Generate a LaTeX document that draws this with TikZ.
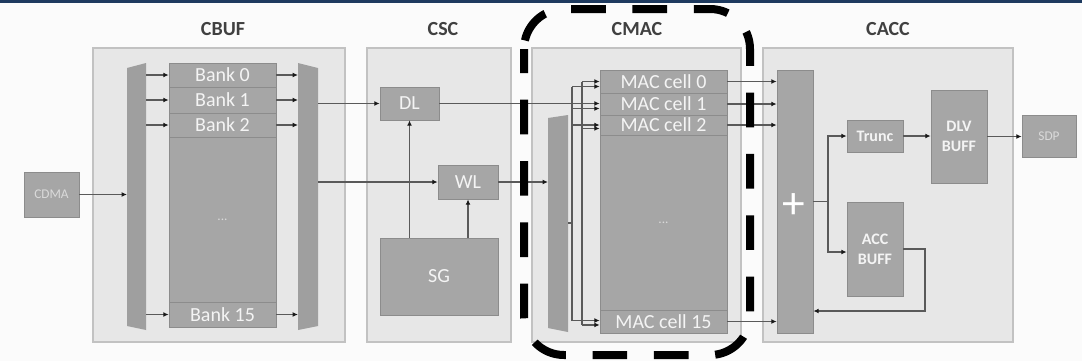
\documentclass[tikz,border=0pt]{standalone}
\usepackage{fontspec}
\setmainfont{Carlito}
\usetikzlibrary{arrows.meta,fit,calc}

\definecolor{pagebg}{HTML}{FBFBFB}
\definecolor{topbar}{HTML}{1E3A5F}
\definecolor{modfill}{HTML}{E7E7E7}
\definecolor{modline}{HTML}{C2C2C2}
\definecolor{blkfill}{HTML}{A6A6A6}
\definecolor{muxfill}{HTML}{9F9F9F}
\definecolor{sepline}{HTML}{8C8C8C}
\definecolor{wirecol}{HTML}{5A5A5A}
\definecolor{titlecol}{HTML}{404040}
\definecolor{blktext}{HTML}{F4F4F4}
\definecolor{dimtext}{HTML}{DADADA}

\tikzset{
  module/.style={fill=modfill, draw=modline, line width=0.8pt, inner sep=0pt},
  modtitle/.style={text=titlecol, font=\bfseries\fontsize{15}{18}\selectfont},
  blk/.style={fill=blkfill, draw=sepline, line width=0.5pt, inner sep=0pt},
  bigtxt/.style={text=blktext, inner sep=0pt, font=\fontsize{15}{18}\selectfont},
  boldtxt/.style={text=blktext, inner sep=0pt, align=center,
                  font=\bfseries\fontsize{12}{15}\selectfont},
  dimtxt/.style={text=dimtext, inner sep=0pt, font=\fontsize{10}{12}\selectfont},
  mux/.style={fill=muxfill},
  wire/.style={draw=wirecol, line width=0.8pt},
  arr/.style={wire, -{Latex[length=4pt,width=3.6pt,color=black!90]}},
  hilite/.style={draw=black, line width=6pt, rounded corners=30pt,
                 dash pattern=on 26pt off 20pt, dash phase=8pt}
}

\begin{document}
\begin{tikzpicture}[x=0.75pt, y=-0.75pt]
  % page and top rule
  \fill[pagebg] (0,0) rectangle (1082,361);
  \useasboundingbox (0,0) rectangle (1082,361);
  \fill[topbar] (0,0) rectangle (1082,2.5);

  % the four modules
  \node[module, fit={(93,48) (345,342)}] (cbuf) {};
  \node[module, fit={(367,48) (511,342)}] (csc) {};
  \node[module, fit={(532,48) (741,342)}] (cmac) {};
  \node[module, fit={(763,48) (1013,342)}] (cacc) {};
  \node[modtitle] (tcbuf) at (223,29) {CBUF};
  \node[modtitle] (tcsc)  at (443,29) {CSC};
  \node[modtitle] (tcmac) at (637,29) {CMAC};
  \node[modtitle] (tcacc) at (888,29) {CACC};

  % external blocks
  \node[blk, fit={(24,172) (79,217)}, label={[dimtxt]center:CDMA}] (cdma) {};
  \node[blk, fit={(1022,115) (1076,157)}, label={[dimtxt]center:SDP}] (sdp) {};

  % CBUF: input/output selectors and the banks
  \fill[mux] (127,68) -- (146,63) -- (146,330) -- (127,326) -- cycle;
  \fill[mux] (298,63) -- (318,68) -- (318,326) -- (298,330) -- cycle;
  \coordinate (lmuxL) at (127,195);
  \coordinate (lmuxR) at (146,195);
  \coordinate (rmuxL) at (298,195);
  \coordinate (rmuxR) at (318,195);
  \node[blk, fit={(169,63) (276,87)},   label={[bigtxt]center:Bank 0}]  (b0)   {};
  \node[blk, fit={(169,87) (276,113)},  label={[bigtxt]center:Bank 1}]  (b1)   {};
  \node[blk, fit={(169,113) (276,137)}, label={[bigtxt]center:Bank 2}]  (b2)   {};
  \node[blk, fit={(169,137) (276,302)}, label={[dimtxt]center:...}]     (bmid) {};
  \node[blk, fit={(169,302) (276,327)}, label={[bigtxt]center:Bank 15}] (b15)  {};

  \draw[arr] (cdma.east) -- (cdma.east -| lmuxL);
  \foreach \b in {b0,b1,b2,b15}{
    \draw[arr] (\b.west -| lmuxR) -- (\b.west);
    \draw[arr] (\b.east) -- (\b.east -| rmuxL);
  }

  % CSC
  \node[blk, fit={(380,87) (439,120)},  label={[bigtxt]center:DL}] (dl) {};
  \node[blk, fit={(438,165) (498,199)}, label={[bigtxt]center:WL}] (wl) {};
  \node[blk, fit={(380,238) (498,315)}, label={[bigtxt]center:SG}] (sg) {};
  \draw[arr] (dl.west -| rmuxR) -- (dl.west);
  \draw[arr] (wl.west -| rmuxR) -- (wl.west);
  \draw[arr] (dl.south |- sg.north) -- (dl.south);
  \draw[arr] (wl.south |- sg.north) -- (wl.south);

  % CMAC: weight selector, broadcast buses and MAC cells
  \fill[mux] (548,118) -- (568,115) -- (568,332) -- (548,328) -- cycle;
  \coordinate (cmuxL) at (548,182);
  \coordinate (cmuxR) at (568,223);
  \coordinate (wbus) at (572,223);
  \coordinate (dbus) at (582,103);
  \node[blk, fit={(600,70) (727,93)},   label={[bigtxt]center:MAC cell 0}]  (m0)   {};
  \node[blk, fit={(600,93) (727,115)},  label={[bigtxt]center:MAC cell 1}]  (m1)   {};
  \node[blk, fit={(600,115) (727,135)}, label={[bigtxt]center:MAC cell 2}]  (m2)   {};
  \node[blk, fit={(600,135) (727,310)}, label={[dimtxt]center:...}]         (mmid) {};
  \node[blk, fit={(600,310) (727,333)}, label={[bigtxt]center:MAC cell 15}] (m15)  {};

  \draw[arr] (wl.east) -- (wl.east -| cmuxL);
  \draw[arr] (dl.east) -- (dl.east -| m1.west);
  % weight bus
  \draw[wire] (cmuxR) -- (wbus);
  \draw[wire] ([yshift=-3.75pt]m0.west -| wbus) -- ([yshift=0.75pt]m15.west -| wbus);
  \draw[arr] ([yshift=-3.75pt]m0.west -| wbus) -- ([yshift=-3.75pt]m0.west);
  \draw[arr] ([yshift=-3.4pt]m1.west -| wbus) -- ([yshift=-3.4pt]m1.west);
  \draw[arr] (m2.west -| wbus) -- (m2.west);
  \draw[arr] ([yshift=0.75pt]m15.west -| wbus) -- ([yshift=0.75pt]m15.west);
  % data bus
  \draw[wire] (m0.west -| dbus) -- ([yshift=-2.6pt]m15.west -| dbus);
  \draw[arr] (m0.west -| dbus) -- (m0.west);
  \draw[arr] ([yshift=-2.6pt]m2.west -| dbus) -- ([yshift=-2.6pt]m2.west);
  \draw[arr] ([yshift=-2.6pt]m15.west -| dbus) -- ([yshift=-2.6pt]m15.west);

  % CACC
  \node[blk, fit={(777,70) (813,333)}] (adder) {};
  \node[text=white, inner sep=0pt, font=\fontsize{34}{36}\selectfont] (plus) at (794,206) {+};
  \node[blk, fit={(847,120) (903,152)}, label={[boldtxt]center:Trunc}]      (trunc) {};
  \node[blk, fit={(931,90) (987,183)},  label={[boldtxt]center:DLV\\BUFF}]  (dlv)   {};
  \node[blk, fit={(847,202) (903,296)}, label={[boldtxt]center:ACC\\BUFF}]  (accb)  {};
  \coordinate (jn) at (828,203);
  \coordinate (fb) at (925,311);

  \foreach \m in {m0,m1,m2,m15}{
    \draw[arr] (\m.east) -- (\m.east -| adder.west);
  }
  \draw[wire] (adder.east) -- (adder.east -| jn);
  \draw[arr] (adder.east -| jn) |- (trunc.west);
  \draw[arr] (adder.east -| jn) |- ([yshift=-2.25pt]accb.west);
  \draw[arr] (trunc.east) -- (trunc.east -| dlv.west);
  \draw[arr] (dlv.east) -- (dlv.east -| sdp.west);
  \draw[arr] (accb.east) -| (fb) -- (fb -| adder.east);

  % highlight around CMAC
  \draw[hilite] (524,9) rectangle (750,355);
\end{tikzpicture}
\end{document}
